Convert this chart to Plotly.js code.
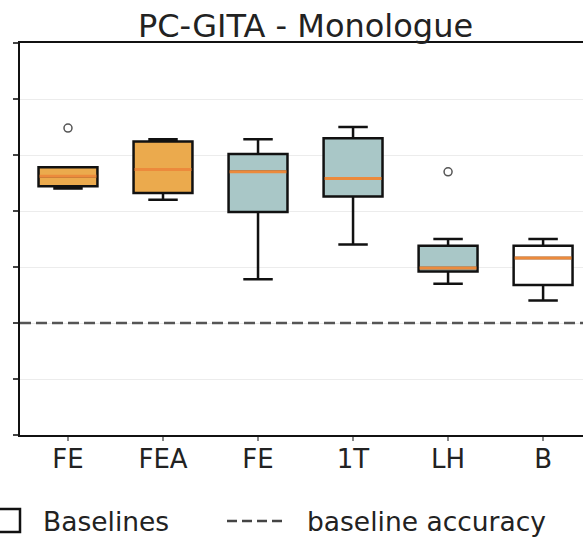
<!DOCTYPE html>
<html><head><meta charset="utf-8">
<script src="https://cdn.plot.ly/plotly-3.0.1.min.js"></script>
<style>html,body{margin:0;padding:0;background:#fff}#chart{width:583px;height:538px}</style>
</head><body><div id="chart"></div>
<script>
// ---- data ----
const labels = ["FE", "FEA", "FE", "1T", "LH", "B"];
const groupOf = ["orange", "orange", "blue", "blue", "blue", "white"];
const lowerWhisker = [0.620, 0.610, 0.539, 0.570, 0.535, 0.520];
const q1 =          [0.622, 0.616, 0.599, 0.613, 0.546, 0.534];
const median =      [0.631, 0.637, 0.635, 0.629, 0.549, 0.558];
const q3 =          [0.639, 0.662, 0.651, 0.665, 0.569, 0.569];
const upperWhisker =[0.639, 0.664, 0.664, 0.675, 0.575, 0.575];
const outlierIdx = [0, 4];
const outlierVal = [0.674, 0.635];
const baselineAccuracy = 0.50;
const yTicks = [0.40, 0.45, 0.50, 0.55, 0.60, 0.65, 0.70, 0.75];
const legendLabels = ["Baselines", "baseline accuracy"];

// ---- styles ----
const fills = {orange: "#EBAA4D", blue: "#A9C7C7", white: "#FFFFFF"};
const BOXW = 0.62;
const W = 583, H = 538, ML = 20, MR = 0, MT = 43, MB = 103;
const PW = W - ML - MR, PH = H - MT - MB;
const px = x => (x - ML) / PW;
const py = y => (H - MB - y) / PH;

const traces = [];
["orange", "blue", "white"].forEach(g => {
  const idx = labels.map((_, i) => i).filter(i => groupOf[i] === g);
  traces.push({
    type: "box",
    x: idx,
    q1: idx.map(i => q1[i]),
    median: idx.map(i => median[i]),
    q3: idx.map(i => q3[i]),
    lowerfence: idx.map(i => lowerWhisker[i]),
    upperfence: idx.map(i => upperWhisker[i]),
    width: BOXW,
    whiskerwidth: 0.5,
    fillcolor: fills[g],
    line: {color: "#111111", width: 2.5},
    boxpoints: false,
    hoverinfo: "skip"
  });
});
// median overlay (orange line)
const mx = [], my = [];
median.forEach((m, i) => { mx.push(i - BOXW / 2 + 0.01, i + BOXW / 2 - 0.01, null); my.push(m, m, null); });
traces.push({type: "scatter", mode: "lines", x: mx, y: my, line: {color: "#EC8A3C", width: 3}, hoverinfo: "skip"});
// outliers
traces.push({type: "scatter", mode: "markers", x: outlierIdx, y: outlierVal,
  marker: {symbol: "circle-open", size: 8, color: "#555", line: {width: 1.5}}, hoverinfo: "skip"});

const layout = {
  width: W, height: H,
  margin: {l: ML, r: MR, t: MT, b: MB, pad: 0},
  paper_bgcolor: "#fff", plot_bgcolor: "#fff",
  showlegend: false,
  font: {family: "DejaVu Sans", color: "#222"},
  title: {text: "PC-GITA - Monologue", font: {size: 32, color: "#222", family: "DejaVu Sans"},
    x: 305.5 / W, xref: "container", xanchor: "center", y: 1 - 26 / H, yref: "container", yanchor: "middle"},
  xaxis: {range: [-0.505, 5.42], tickmode: "array", tickvals: labels.map((_, i) => i), ticktext: labels,
    showline: true, linecolor: "#111", linewidth: 2, mirror: true,
    ticks: "outside", ticklen: 4, tickwidth: 1.2, tickcolor: "#888",
    ticklabelstandoff: -4,
    showgrid: false, zeroline: false, tickfont: {size: 26, color: "#222"}},
  yaxis: {range: [yTicks[0], yTicks[yTicks.length - 1]], tickmode: "array", tickvals: yTicks, showticklabels: false,
    showline: true, linecolor: "#111", linewidth: 2,
    ticks: "outside", ticklen: 5, tickwidth: 1.5, tickcolor: "#444",
    showgrid: true, gridcolor: "#ececec", gridwidth: 1, zeroline: false},
  shapes: [
    {type: "line", xref: "paper", yref: "y", x0: 0, x1: 1, y0: baselineAccuracy, y1: baselineAccuracy,
      line: {color: "#555", width: 2.5, dash: "11px,5px"}, layer: "above"},
    {type: "rect", xref: "paper", yref: "paper", x0: px(-6), x1: px(20), y0: py(509), y1: py(532),
      line: {color: "#111", width: 2.5}, fillcolor: "#fff"},
    {type: "line", xref: "paper", yref: "paper", x0: px(227), x1: px(283), y0: py(521), y1: py(521),
      line: {color: "#444", width: 2.5, dash: "10px,5px"}}
  ],
  annotations: [
    {xref: "paper", yref: "paper", x: px(41), y: py(521), xanchor: "left", yanchor: "middle",
      text: legendLabels[0], showarrow: false, font: {size: 26.5, color: "#222"}},
    {xref: "paper", yref: "paper", x: px(305), y: py(521), xanchor: "left", yanchor: "middle",
      text: legendLabels[1], showarrow: false, font: {size: 26.5, color: "#222"}}
  ]
};
Plotly.newPlot("chart", traces, layout, {staticPlot: true, displayModeBar: false});
</script>
</body></html>
